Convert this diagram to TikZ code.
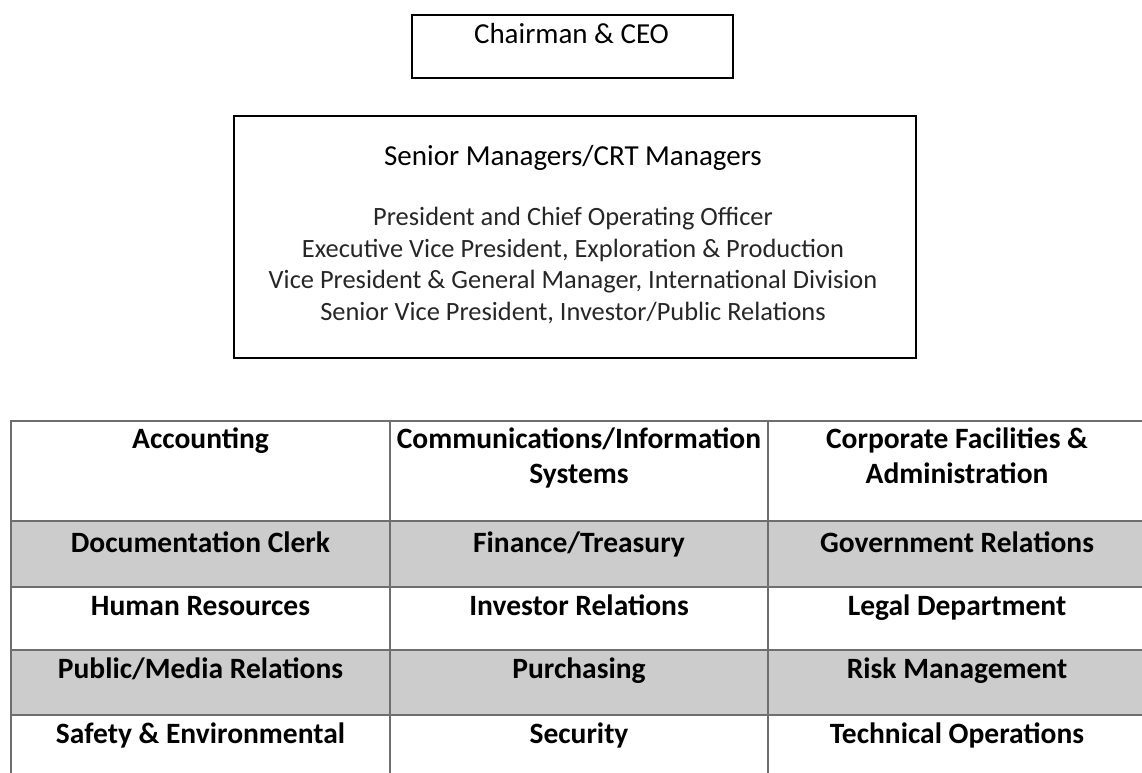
\documentclass[tikz,border=0pt]{standalone}
\usepackage{fontspec}
\setmainfont{Carlito}
\definecolor{rowgray}{HTML}{CCCCCC}
\definecolor{tgray}{HTML}{6E6E6E}
\tikzset{
  frame/.style={draw=black, line width=2pt, fill=none, inner sep=0pt},
  tline/.style={draw=tgray, line width=2pt},
  title/.style={anchor=base, inner sep=0pt, font=\fontsize{29}{35}\selectfont},
  role/.style={anchor=base, inner sep=0pt, text=black!85, align=center, font=\fontsize{26.4}{31.5}\selectfont},
  cell/.style={anchor=base, inner sep=0pt, align=center, font=\fontsize{29.5}{35}\selectfont\bfseries},
}
\begin{document}
\begin{tikzpicture}[x=1pt,y=-1pt]
\useasboundingbox (0,0) rectangle (1142,772);
\clip (0,0) rectangle (1142,772);
% table shading
\fill[rowgray] (11,521) rectangle (1150,587);
\fill[rowgray] (11,650) rectangle (1150,715);
% table rules
\draw[tline] (1150,421) -- (11,421) -- (11,780);
\foreach \yy in {521,587,650,715} \draw[tline] (11,\yy) -- (1150,\yy);
\draw[tline] (390,421) -- (390,780);
\draw[tline] (768,421) -- (768,780);
% boxes
\node[frame, anchor=north west, minimum width=321pt, minimum height=63pt] (ceo) at (411,14) {};
\node[title] (ceotext) at (571.5,43) {Chairman \& CEO};
\node[frame, anchor=north west, minimum width=682pt, minimum height=242pt] (senior) at (233,115) {};
\node[title] (seniortext) at (573,165) {Senior Managers/CRT Managers};
% multi-line nodes: base anchor = baseline of last line
\node[role] (roles) at (573,320) {President and Chief Operating Officer\\Executive Vice President, Exploration \& Production\\Vice President \& General Manager, International Division\\Senior Vice President, Investor/Public Relations};
% table cells
\node[cell] (c11) at (200.5,448) {Accounting};
\node[cell] (c12) at (579,483) {Communications/Information\\Systems};
\node[cell] (c13) at (957,483) {Corporate Facilities \&\\Administration};
\node[cell] (c21) at (200.5,552) {Documentation Clerk};
\node[cell] (c22) at (579,552) {Finance/Treasury};
\node[cell] (c23) at (957,552) {Government Relations};
\node[cell] (c31) at (200.5,615) {Human Resources};
\node[cell] (c32) at (579,615) {Investor Relations};
\node[cell] (c33) at (957,615) {Legal Department};
\node[cell] (c41) at (200.5,678) {Public/Media Relations};
\node[cell] (c42) at (579,678) {Purchasing};
\node[cell] (c43) at (957,678) {Risk Management};
\node[cell] (c51) at (200.5,743) {Safety \& Environmental};
\node[cell] (c52) at (579,743) {Security};
\node[cell] (c53) at (957,743) {Technical Operations};
\end{tikzpicture}
\end{document}
